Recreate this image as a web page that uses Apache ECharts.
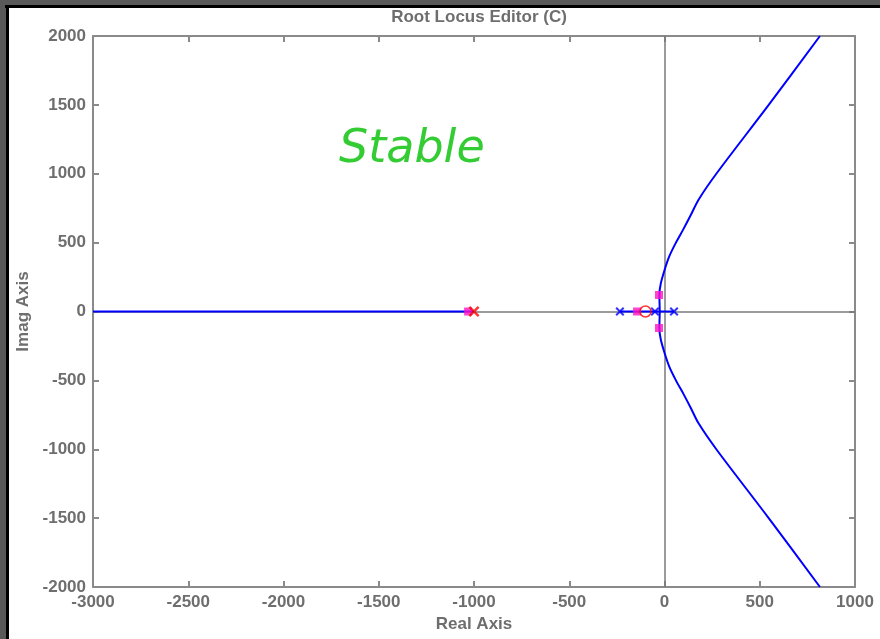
<!DOCTYPE html>
<html>
<head>
<meta charset="utf-8">
<script src="https://cdn.jsdelivr.net/npm/echarts@6/dist/echarts.min.js"></script>
<style>html,body{margin:0;padding:0;background:#fff;}#c{width:880px;height:639px;}</style>
</head>
<body>
<div id="c"></div>
<script>
// Axis ticks
const xTicks = [-3000, -2500, -2000, -1500, -1000, -500, 0, 500, 1000];
const yTicks = [-2000, -1500, -1000, -500, 0, 500, 1000, 1500, 2000];
// Root locus branch (upper half; lower half is its mirror)
const branchImag = [0, 120, 200, 300, 400, 500, 600, 700, 810, 1000, 1500, 2000];
const branchReal = [-25, -27, -20, 0, 25, 60, 100, 138, 178, 272, 547, 816];
// Real-axis locus segments
const segLeft = [-3000, -1000];
const segRight = [-234, 50];
// Open-loop poles (blue x) and plant pole (red x)
const polesBlue = [-234, -50, 50];
const polesRed = [-1000];
// Zero (red circle)
const zerosRed = [-100];
// Closed-loop poles (pink squares)
const clReal = [-1031, -144, -29, -29];
const clImag = [0, 0, 120, -120];

const branch = [];
for (let i = branchImag.length - 1; i >= 0; i--) branch.push([branchReal[i], -branchImag[i]]);
for (let i = 1; i < branchImag.length; i++) branch.push([branchReal[i], branchImag[i]]);

const crossPath = 'path://M0,1.6L1.6,0L5,3.4L8.4,0L10,1.6L6.6,5L10,8.4L8.4,10L5,6.6L1.6,10L0,8.4L3.4,5Z';
const gray = '#8a8a8a';
const txt = '#6e6e6e';
const font = "'Liberation Sans', Arial, sans-serif";
const plain = v => String(v);

const chart = echarts.init(document.getElementById('c'), null, {renderer: 'canvas'});
chart.setOption({
  backgroundColor: '#ffffff',
  animation: false,
  title: {
    text: 'Root Locus Editor (C)', left: 474, top: 4, textAlign: 'center',
    textStyle: {color: txt, fontSize: 17, fontWeight: 'bold', fontFamily: font}
  },
  graphic: [
    {type: 'rect', shape: {x: 0, y: 0, width: 880, height: 5}, style: {fill: '#595959'}, silent: true},
    {type: 'rect', shape: {x: 0, y: 0, width: 6, height: 639}, style: {fill: '#595959'}, silent: true},
    {type: 'rect', shape: {x: 5, y: 5, width: 875, height: 3}, style: {fill: '#000'}, silent: true},
    {type: 'rect', shape: {x: 6, y: 5, width: 3, height: 634}, style: {fill: '#000'}, silent: true},
    {type: 'text', left: 339, top: 127, silent: true,
     style: {text: 'Stable', fill: '#33cc33', fontSize: 46, fontStyle: 'italic', fontFamily: "'DejaVu Sans', Verdana, sans-serif"}}
  ],
  grid: {left: 93, right: 25, top: 36, bottom: 52, show: false},
  xAxis: [
    {type: 'value', min: -3000, max: 1000, interval: 500, position: 'bottom',
     name: 'Real Axis', nameLocation: 'middle', nameGap: 29,
     nameTextStyle: {color: txt, fontSize: 17, fontWeight: 'bold', fontFamily: font},
     axisLine: {show: true, onZero: false, lineStyle: {color: gray, width: 2}},
     axisTick: {show: true, inside: true, length: 6, lineStyle: {color: gray, width: 2}},
     axisLabel: {color: txt, fontSize: 17, fontWeight: 'bold', fontFamily: font, margin: 7, formatter: plain},
     splitLine: {show: false}},
    {type: 'value', min: -3000, max: 1000, interval: 500, position: 'top',
     axisLine: {show: true, onZero: false, lineStyle: {color: gray, width: 2}},
     axisTick: {show: true, inside: true, length: 6, lineStyle: {color: gray, width: 2}},
     axisLabel: {show: false}, splitLine: {show: false}}
  ],
  yAxis: [
    {type: 'value', min: -2000, max: 2000, interval: 500, position: 'left',
     name: 'Imag Axis', nameLocation: 'middle', nameGap: 58,
     nameTextStyle: {color: txt, fontSize: 17, fontWeight: 'bold', fontFamily: font},
     axisLine: {show: true, onZero: false, lineStyle: {color: gray, width: 2}},
     axisTick: {show: true, inside: true, length: 6, lineStyle: {color: gray, width: 2}},
     axisLabel: {color: txt, fontSize: 17, fontWeight: 'bold', fontFamily: font, margin: 7, formatter: plain},
     splitLine: {show: false}},
    {type: 'value', min: -2000, max: 2000, interval: 500, position: 'right',
     axisLine: {show: true, onZero: false, lineStyle: {color: gray, width: 2}},
     axisTick: {show: true, inside: true, length: 6, lineStyle: {color: gray, width: 2}},
     axisLabel: {show: false}, splitLine: {show: false}}
  ],
  series: [
    {type: 'line', data: [], silent: true, z: 0,
     markLine: {silent: true, z: 1, symbol: 'none', label: {show: false},
       lineStyle: {color: '#7a7a7a', width: 1.5, type: 'solid'},
       data: [{xAxis: 0}, {yAxis: 0}]}},
    {type: 'line', data: segLeft.map(v => [v, 0]), showSymbol: false, lineStyle: {color: '#0000ff', width: 2}, z: 3},
    {type: 'line', data: segRight.map(v => [v, 0]), showSymbol: false, lineStyle: {color: '#0000ff', width: 2}, z: 3},
    {type: 'line', data: branch, showSymbol: false, smooth: 0.3, lineStyle: {color: '#0000ff', width: 2}, z: 3},
    {type: 'scatter', data: clReal.map((v, i) => [v, clImag[i]]), symbol: 'rect', symbolSize: 8,
     itemStyle: {color: '#ff10c8'}, z: 4},
    {type: 'scatter', data: polesBlue.map(v => [v, 0]), symbol: crossPath, symbolSize: 9,
     itemStyle: {color: '#0000ff'}, z: 5},
    {type: 'scatter', data: polesRed.map(v => [v, 0]), symbol: crossPath, symbolSize: 11,
     itemStyle: {color: '#ff0000'}, z: 5},
    {type: 'scatter', data: zerosRed.map(v => [v, 0]), symbol: 'circle', symbolSize: 11,
     itemStyle: {color: 'rgba(0,0,0,0)', borderColor: '#ff0000', borderWidth: 1.5}, z: 5}
  ]
});
</script>
</body>
</html>
